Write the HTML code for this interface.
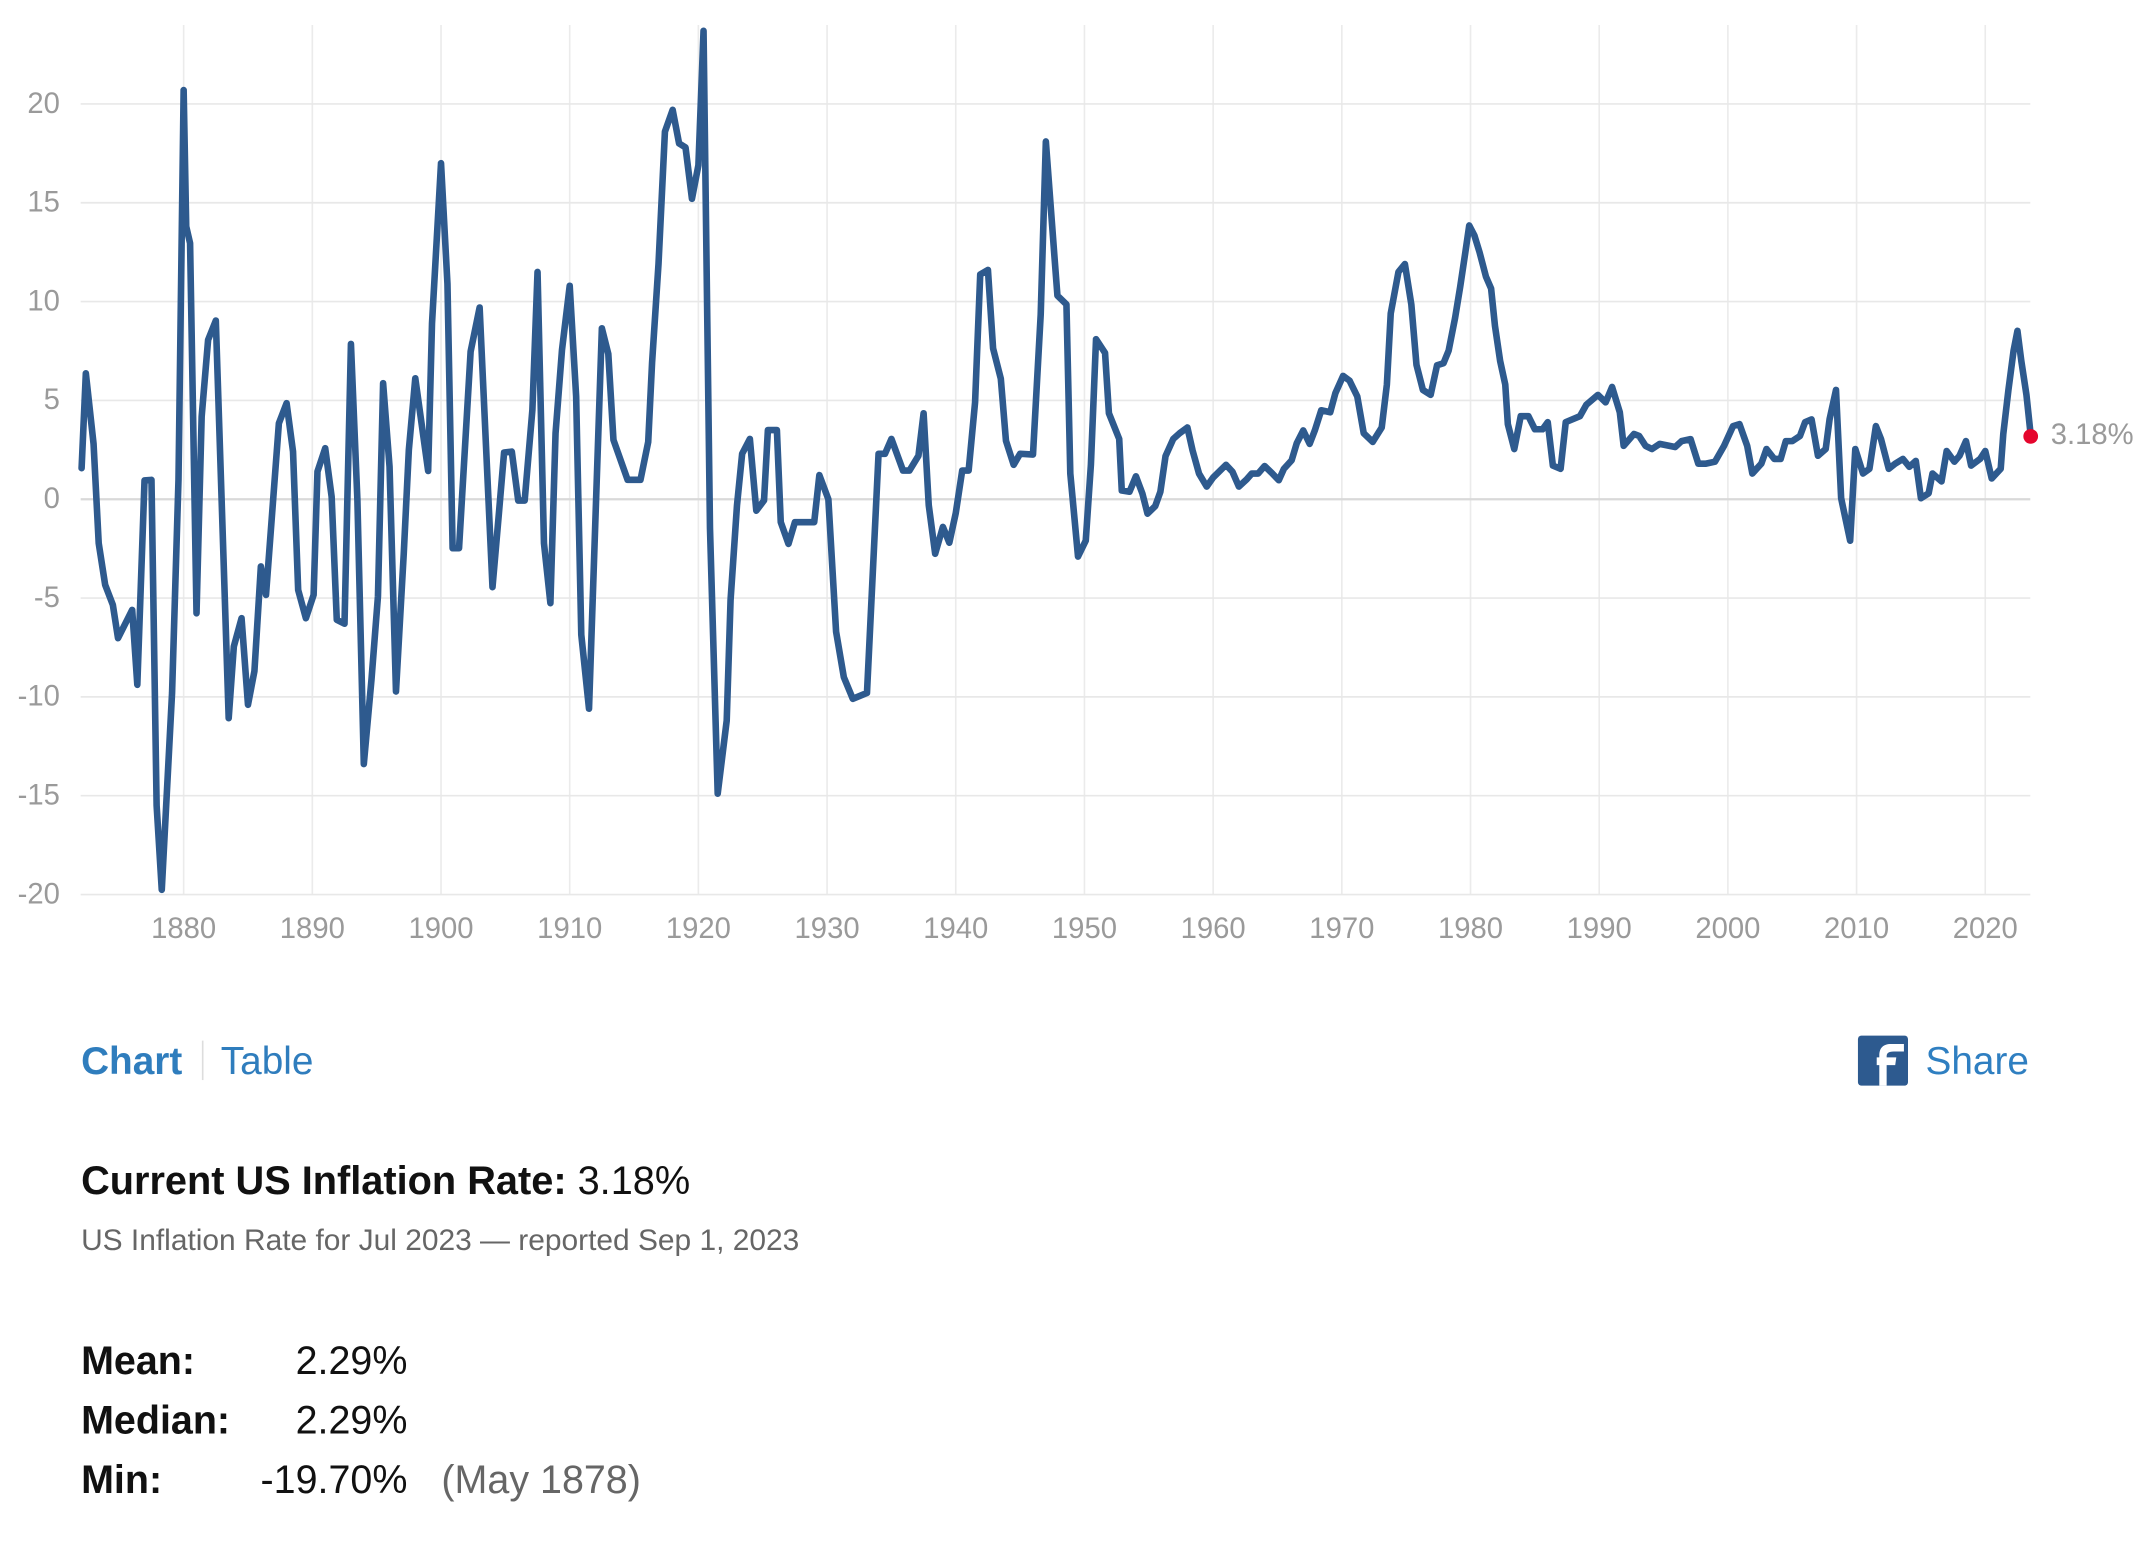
<!DOCTYPE html>
<html>
<head>
<meta charset="utf-8">
<style>
html,body{margin:0;padding:0;background:#fff;overflow:hidden;}
svg{display:block;}
</style>
</head>
<body>
<svg width="2133" height="1548" viewBox="0 0 1568 1138" preserveAspectRatio="none" xmlns="http://www.w3.org/2000/svg" font-family="'Liberation Sans', Arial, sans-serif">
  <rect x="0" y="0" width="1568" height="1138" fill="#ffffff"/>
  <!-- vertical grid -->
  <g stroke="#ebebeb" stroke-width="1.2">
    <line x1="135" y1="18.4" x2="135" y2="657.6"/>
    <line x1="229.6" y1="18.4" x2="229.6" y2="657.6"/>
    <line x1="324.2" y1="18.4" x2="324.2" y2="657.6"/>
    <line x1="418.8" y1="18.4" x2="418.8" y2="657.6"/>
    <line x1="513.4" y1="18.4" x2="513.4" y2="657.6"/>
    <line x1="608" y1="18.4" x2="608" y2="657.6"/>
    <line x1="702.6" y1="18.4" x2="702.6" y2="657.6"/>
    <line x1="797.2" y1="18.4" x2="797.2" y2="657.6"/>
    <line x1="891.8" y1="18.4" x2="891.8" y2="657.6"/>
    <line x1="986.4" y1="18.4" x2="986.4" y2="657.6"/>
    <line x1="1081" y1="18.4" x2="1081" y2="657.6"/>
    <line x1="1175.6" y1="18.4" x2="1175.6" y2="657.6"/>
    <line x1="1270.2" y1="18.4" x2="1270.2" y2="657.6"/>
    <line x1="1364.8" y1="18.4" x2="1364.8" y2="657.6"/>
    <line x1="1459.4" y1="18.4" x2="1459.4" y2="657.6"/>
  </g>
  <!-- horizontal grid -->
  <g stroke="#e8e8e8" stroke-width="1.2">
    <line x1="59.3" y1="76.4" x2="1492.5" y2="76.4"/>
    <line x1="59.3" y1="149.05" x2="1492.5" y2="149.05"/>
    <line x1="59.3" y1="221.7" x2="1492.5" y2="221.7"/>
    <line x1="59.3" y1="294.35" x2="1492.5" y2="294.35"/>
    <line x1="59.3" y1="439.65" x2="1492.5" y2="439.65"/>
    <line x1="59.3" y1="512.3" x2="1492.5" y2="512.3"/>
    <line x1="59.3" y1="584.95" x2="1492.5" y2="584.95"/>
    <line x1="59.3" y1="657.6" x2="1492.5" y2="657.6"/>
  </g>
  <line x1="59.3" y1="367" x2="1492.5" y2="367" stroke="#d9d9d9" stroke-width="1.7"/>

  <!-- y labels -->
  <g fill="#9a9a9a" font-size="21.5" text-anchor="end">
    <text x="44" y="82.9">20</text>
    <text x="44" y="155.55">15</text>
    <text x="44" y="228.2">10</text>
    <text x="44" y="300.85">5</text>
    <text x="44" y="373.5">0</text>
    <text x="44" y="446.15">-5</text>
    <text x="44" y="518.8">-10</text>
    <text x="44" y="591.45">-15</text>
    <text x="44" y="664.1">-20</text>
  </g>
  <!-- x labels -->
  <g fill="#9a9a9a" font-size="21.5" text-anchor="middle">
    <text x="135" y="689.5">1880</text>
    <text x="229.6" y="689.5">1890</text>
    <text x="324.2" y="689.5">1900</text>
    <text x="418.8" y="689.5">1910</text>
    <text x="513.4" y="689.5">1920</text>
    <text x="608" y="689.5">1930</text>
    <text x="702.6" y="689.5">1940</text>
    <text x="797.2" y="689.5">1950</text>
    <text x="891.8" y="689.5">1960</text>
    <text x="986.4" y="689.5">1970</text>
    <text x="1081" y="689.5">1980</text>
    <text x="1175.6" y="689.5">1990</text>
    <text x="1270.2" y="689.5">2000</text>
    <text x="1364.8" y="689.5">2010</text>
    <text x="1459.4" y="689.5">2020</text>
  </g>

  <!-- data line -->
  <polyline transform="translate(135,367) scale(9.46,-14.53)" fill="none" stroke="#2e5a8e" stroke-width="6.6" vector-effect="non-scaling-stroke" stroke-linejoin="round" stroke-linecap="round"
    points="-7.93,1.57 -7.6,6.37 -7.0,2.8 -6.6,-2.23 -6.1,-4.33 -5.5,-5.35 -5.1,-7.03 -4.0,-5.6 -3.6,-9.39 -3.04,0.95 -2.5,0.98 -2.1,-15.5 -1.7,-19.76 -0.9,-9.8 -0.4,1 0,20.7 0.2,13.8 0.5,12.95 1.0,-5.77 1.4,4.18 1.9,8.06 2.5,9.04 3.5,-11.08 3.9,-7.45 4.5,-6.02 5.0,-10.4 5.5,-8.7 6.0,-3.4 6.4,-4.84 7.4,3.84 8.0,4.86 8.5,2.41 8.9,-4.59 9.5,-6.02 10.1,-4.84 10.4,1.4 11.0,2.58 11.5,0.13 11.9,-6.1 12.5,-6.3 13.0,7.86 13.5,0 14.0,-13.4 14.6,-9.1 15.1,-4.9 15.5,5.87 16.0,1.65 16.5,-9.73 17.1,-2.8 17.5,2.5 18.0,6.12 19.0,1.43 19.3,8.9 20.0,17.0 20.5,10.9 20.9,-2.48 21.4,-2.48 22.3,7.47 23.0,9.7 24.0,-4.45 24.5,-0.7 24.9,2.36 25.5,2.41 26.0,-0.07 26.5,-0.07 27.1,4.52 27.5,11.5 28.0,-2.23 28.5,-5.26 28.9,3.34 29.4,7.55 30.0,10.8 30.5,5.2 30.9,-6.86 31.5,-10.6 32.5,8.65 33.0,7.35 33.4,3.0 34.5,0.98 35.5,0.98 36.1,2.9 36.4,6.9 36.9,11.9 37.4,18.6 38.0,19.7 38.5,18.0 39.0,17.8 39.5,15.2 40.0,16.9 40.4,23.7 40.9,-1.45 41.5,-14.9 42.2,-11.2 42.5,-5.1 43.0,-0.3 43.4,2.3 44.0,3.05 44.5,-0.58 45.1,-0.06 45.4,3.5 46.1,3.5 46.4,-1.16 47.0,-2.26 47.5,-1.16 49.0,-1.16 49.4,1.22 50.1,0 50.7,-6.7 51.3,-9.0 52.0,-10.1 53.1,-9.8 54.0,2.3 54.5,2.3 55.0,3.05 55.9,1.45 56.4,1.45 57.1,2.2 57.5,4.35 57.9,-0.3 58.4,-2.76 59.0,-1.4 59.5,-2.2 60.0,-0.7 60.5,1.45 61.0,1.45 61.5,4.9 61.9,11.37 62.5,11.6 62.9,7.63 63.5,6.1 63.9,2.96 64.5,1.74 65.0,2.3 66.0,2.26 66.6,9.34 67.0,18.1 67.7,12.0 67.9,10.3 68.6,9.86 68.9,1.3 69.5,-2.9 70.1,-2.1 70.5,1.74 70.9,8.1 71.6,7.4 71.9,4.35 72.7,3.05 72.9,0.44 73.5,0.38 74.0,1.16 74.5,0.29 74.9,-0.73 75.5,-0.35 75.9,0.38 76.3,2.18 76.9,3.05 77.4,3.34 78.0,3.63 78.4,2.47 78.9,1.3 79.5,0.64 80.0,1.1 81.0,1.74 81.5,1.39 82.0,0.64 82.6,1.0 83.0,1.3 83.5,1.3 84.0,1.68 84.6,1.3 85.1,0.96 85.5,1.54 86.1,1.97 86.5,2.84 87.0,3.48 87.5,2.8 87.9,3.48 88.4,4.5 89.1,4.4 89.5,5.37 90.1,6.24 90.6,6.0 91.2,5.2 91.7,3.34 92.4,2.9 93.1,3.63 93.5,5.8 93.8,9.4 94.4,11.5 94.9,11.9 95.4,9.86 95.8,6.8 96.3,5.53 96.9,5.28 97.4,6.78 97.9,6.88 98.3,7.52 98.8,9.17 99.2,10.76 99.6,12.5 99.9,13.85 100.3,13.35 100.7,12.5 101.2,11.26 101.6,10.66 101.9,8.77 102.3,7.0 102.7,5.8 102.9,3.8 103.4,2.54 103.9,4.2 104.5,4.2 105.0,3.54 105.6,3.54 106.0,3.9 106.4,1.7 107.0,1.54 107.4,3.9 108.5,4.2 109.0,4.78 109.9,5.28 110.5,4.9 111.0,5.68 111.6,4.4 111.9,2.7 112.7,3.3 113.1,3.2 113.6,2.7 114.1,2.54 114.7,2.8 115.9,2.64 116.4,2.94 117.1,3.04 117.7,1.8 118.3,1.8 119.0,1.9 119.7,2.7 120.4,3.7 120.9,3.8 121.5,2.7 121.9,1.3 122.6,1.8 123.0,2.54 123.6,2.04 124.1,2.04 124.5,2.94 125.0,2.94 125.6,3.2 126.0,3.9 126.5,4.04 127.0,2.2 127.6,2.54 127.9,4.04 128.4,5.53 128.8,0.05 129.5,-2.1 129.9,2.54 130.5,1.3 131.0,1.54 131.5,3.7 131.9,3.04 132.5,1.54 133.0,1.8 133.6,2.04 134.1,1.64 134.6,1.94 135.0,0.05 135.6,0.3 135.9,1.3 136.6,0.9 137.0,2.44 137.6,1.9 138.0,2.2 138.5,2.94 138.9,1.7 139.6,2.04 140.0,2.44 140.5,1.05 141.2,1.54 141.4,3.3 141.8,5.53 142.2,7.52 142.5,8.52 142.8,7.0 143.2,5.28 143.54,3.18"/>

  <!-- end point -->
  <circle cx="1492.8" cy="320.8" r="5.4" fill="#e5062d"/>
  <text x="1507.5" y="326.3" font-size="21.5" fill="#9a9a9a">3.18%</text>

  <!-- tabs -->
  <text x="59.6" y="789.5" font-size="28.5" font-weight="bold" fill="#2f7dbd">Chart</text>
  <line x1="149" y1="765" x2="149" y2="794" stroke="#dddddd" stroke-width="1.2"/>
  <text x="162.3" y="789.5" font-size="28.5" fill="#2f7dbd">Table</text>

  <!-- share -->
  <rect x="1365.8" y="761.3" width="36.8" height="36.8" rx="2.5" fill="#2d5a8f"/>
  <path d="M1381.5,798.1 V783 H1379.6 V777.3 H1381.5 V776 C1381.5,770.2 1384.6,767.5 1390,767.5 H1399.6 V773 H1392.2 C1388,773 1386.9,774.4 1386.9,776.6 V777.3 H1394 L1393.2,783 H1386.9 V798.1 Z" fill="#ffffff"/>
  <text x="1491.5" y="789.5" font-size="28.5" fill="#2f7fc1" text-anchor="end">Share</text>

  <!-- current -->
  <text x="59.6" y="877.8" font-size="29.2" fill="#111111"><tspan font-weight="bold">Current US Inflation Rate:</tspan> 3.18%</text>
  <text x="59.6" y="918.9" font-size="22" fill="#666666">US Inflation Rate for Jul 2023 — reported Sep 1, 2023</text>

  <!-- stats -->
  <g font-size="29" fill="#111111">
    <text x="59.6" y="1010" font-weight="bold">Mean:</text>
    <text x="299.5" y="1010" text-anchor="end">2.29%</text>
    <text x="59.6" y="1053.7" font-weight="bold">Median:</text>
    <text x="299.5" y="1053.7" text-anchor="end">2.29%</text>
    <text x="59.6" y="1097.4" font-weight="bold">Min:</text>
    <text x="299.5" y="1097.4" text-anchor="end">-19.70%</text>
    <text x="324.5" y="1097.4" fill="#666666">(May 1878)</text>
  </g>
</svg>
</body>
</html>
